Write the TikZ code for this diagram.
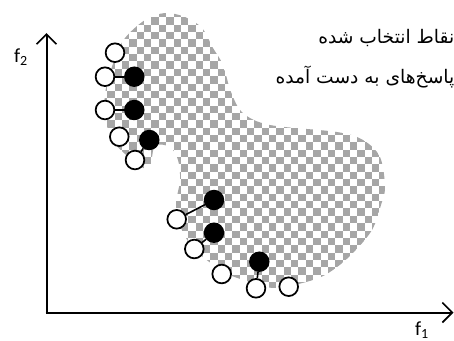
\documentclass[tikz,border=0pt]{standalone}
\usepackage{fontspec}
\usetikzlibrary{arrows.meta}
\setmainfont{Carlito}
\newfontfamily\persianfont[Script=Arabic]{DejaVu Sans}
\TeXXeTstate=1
\definecolor{checkgray}{gray}{0.65}
\tikzset{
  axis/.style={line width=1.5pt, -{Straight Barb[length=7.5pt,width=15pt,line width=1.2pt]}},
  opencirc/.style={circle, draw, fill=white, line width=1.3pt, minimum size=14pt, inner sep=0pt},
  fullcirc/.style={circle, draw, fill=black, line width=1.3pt, minimum size=14pt, inner sep=0pt},
  link/.style={line width=1.2pt}
}

\begin{document}
\begin{tikzpicture}[x=0.75pt, y=-0.75pt]
\useasboundingbox (0,0) rectangle (454,340);

% feasible region
\begin{scope}
\clip plot[smooth cycle, tension=0.55] coordinates {
  (165,13) (185,17) (202,28) (213,48) (223,65) (231,92) (243,113) (270,125)
  (337,132) (363,140) (380,157) (385,187) (381,205) (372,230) (353,253)
  (333,270) (313,280) (275,288) (247,281) (224,272) (195,250) (181,228)
  (176,205) (180,180) (178,160) (170,147) (155,146) (150,166) (140,166)
  (112,140) (105,110) (106,88) (115,58) (125,38) (145,20)};
\foreach \i [evaluate=\i as \off using {int(mod(\i,2))}] in {0,...,40}
  \foreach \j in {0,...,19}
    \fill[checkgray] ({100+\i*7.35},{10+(2*\j+\off)*7.35}) rectangle ++(7.35,7.35);
\end{scope}

% axes
\coordinate (o) at (46.5,312.5);
\coordinate (ytip) at (46.5,33);
\coordinate (xtip) at (453.5,312.5);
\draw[axis] (o) -- (ytip);
\draw[axis] ([xshift=-0.75pt]o) -- (xtip);
\node (f2) at (21,57) {\fontsize{15}{18}\selectfont f\textsubscript{2}};
\node (f1) at (422,330) {\fontsize{15}{18}\selectfont f\textsubscript{1}};

% legend
\node[anchor=east] (sel) at (459,38) {\persianfont\fontsize{14}{16}\selectfont\beginR نقاط انتخاب شده\endR};
\node[anchor=east] (res) at (459,77) {\persianfont\fontsize{14}{16}\selectfont\beginR پاسخ‌های به دست آمده\endR};

% points
\node[fullcirc] (q1) at (134.3,76.7) {};
\node[fullcirc] (q2) at (134.3,110) {};
\node[fullcirc] (q3) at (149.3,140) {};
\node[fullcirc] (q4) at (214,200) {};
\node[fullcirc] (q5) at (214,232.7) {};
\node[fullcirc] (q6) at (259.3,261.7) {};
\node[opencirc] (p1) at (105,76.7) {};
\node[opencirc] (p2) at (105,110) {};
\node[opencirc] (p3) at (135,160) {};
\node[opencirc] (p4) at (176.7,219.3) {};
\node[opencirc] (p5) at (194.3,249) {};
\node[opencirc] (p6) at (256,288.3) {};
\node[opencirc] (p7) at (115,52.7) {};
\node[opencirc] (p8) at (119.3,136.7) {};
\node[opencirc] (p9) at (221.7,274) {};
\node[opencirc] (p10) at (288.7,286.7) {};

\foreach \k in {1,...,6}
  \draw[link] (p\k) -- (q\k);
\end{tikzpicture}
\end{document}
